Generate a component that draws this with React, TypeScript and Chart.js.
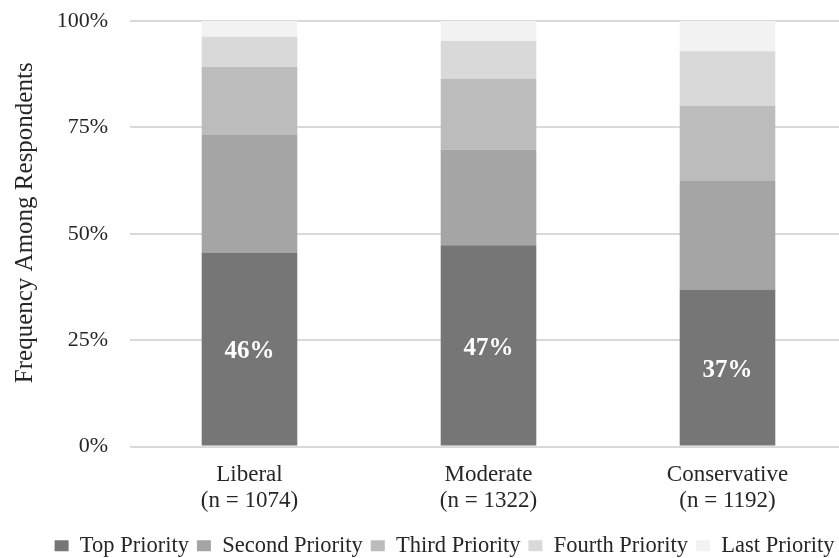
import React, { useEffect, useRef } from "react";
import { Chart, registerables } from "chart.js";

Chart.register(...registerables);

const categories: string[][] = [
  ["Liberal", "(n = 1074)"],
  ["Moderate", "(n = 1322)"],
  ["Conservative", "(n = 1192)"],
];
const seriesNames = ["Top Priority", "Second Priority", "Third Priority", "Fourth Priority", "Last Priority"];
const topPriority = [45.6, 47.3, 36.9];
const secondPriority = [27.6, 22.5, 25.5];
const thirdPriority = [16.0, 16.6, 17.7];
const fourthPriority = [7.1, 8.9, 12.8];
const lastPriority = [3.7, 4.7, 7.1];
const seriesColors = ["#767676", "#a5a5a5", "#bcbcbc", "#d9d9d9", "#f2f2f2"];
const yTicks = [0, 25, 50, 75, 100];
const yTitle = "Frequency Among Respondents";

const FONT = "'Liberation Serif', 'Times New Roman', serif";
const TEXT = "#262626";
const W = 892;
const H = 558;

const labelPlugin = {
  id: "topLabels",
  afterDatasetsDraw(chart: any) {
    const ctx = chart.ctx;
    const meta = chart.getDatasetMeta(0);
    ctx.save();
    ctx.fillStyle = "#ffffff";
    ctx.font = `bold 25px ${FONT}`;
    ctx.textAlign = "center";
    ctx.textBaseline = "middle";
    meta.data.forEach((bar: any, i: number) => {
      const v = chart.data.datasets[0].data[i] as number;
      const y = (bar.y + bar.base) / 2;
      ctx.fillText(`${Math.round(v)}%`, bar.x, y + 3);
    });
    ctx.restore();
  },
};

const yTitlePlugin = {
  id: "yTitle",
  afterDraw(chart: any) {
    const ctx = chart.ctx;
    const a = chart.chartArea;
    ctx.save();
    ctx.translate(25, (a.top + a.bottom) / 2 - 11);
    ctx.rotate(-Math.PI / 2);
    ctx.fillStyle = TEXT;
    ctx.font = `25px ${FONT}`;
    ctx.textAlign = "center";
    ctx.textBaseline = "middle";
    ctx.fillText(yTitle, 0, 0);
    ctx.restore();
  },
};

const legendShift = {
  id: "legendShift",
  afterLayout(chart: any) {
    const lg = chart.legend;
    if (lg) {
      lg.left += 21;
      lg.right += 21;
    }
  },
};

export default function App() {
  const ref = useRef<HTMLCanvasElement>(null);
  useEffect(() => {
    if (!ref.current) return;
    const all = [topPriority, secondPriority, thirdPriority, fourthPriority, lastPriority];
    const chart = new Chart(ref.current, {
      type: "bar",
      data: {
        labels: categories,
        datasets: all.map((d, i) => ({
          label: seriesNames[i],
          data: d,
          backgroundColor: seriesColors[i],
          borderWidth: 0,
          barPercentage: 0.4,
          categoryPercentage: 1,
        })),
      },
      options: {
        animation: false,
        responsive: false,
        maintainAspectRatio: false,
        layout: { padding: { left: 0, right: 45, top: 21, bottom: -9 } },
        plugins: {
          tooltip: { enabled: false },
          legend: {
            position: "bottom",
            labels: {
              font: { family: FONT, size: 22.5 },
              color: TEXT,
              boxWidth: 14,
              boxHeight: 11,
              padding: 8,
            },
          },
        },
        scales: {
          x: {
            stacked: true,
            grid: { display: false, drawTicks: false },
            border: { display: false },
            afterFit: (s: any) => {
              s.height = 80;
            },
            ticks: {
              font: { family: FONT, size: 23, lineHeight: 1.13 },
              color: TEXT,
              padding: 15,
              maxRotation: 0,
            },
          },
          y: {
            stacked: true,
            min: 0,
            max: 100,
            afterBuildTicks: (axis: any) => {
              axis.ticks = yTicks.map((v) => ({ value: v }));
            },
            afterFit: (s: any) => {
              s.width = 130;
              s.paddingTop = 0;
              s.paddingBottom = 0;
            },
            grid: { color: "#d9d9d9", lineWidth: 2, drawTicks: false },
            border: { display: false },
            ticks: {
              font: { family: FONT, size: 22 },
              color: TEXT,
              padding: 22,
              callback: (v: any) => `${v}%`,
            },
          },
        },
      },
      plugins: [labelPlugin, legendShift, yTitlePlugin],
    });
    return () => chart.destroy();
  }, []);
  return (
    <div style={{ position: "fixed", left: 0, top: 0, width: W, height: H, background: "#fff" }}>
      <canvas ref={ref} width={W} height={H} style={{ width: W, height: H }} />
    </div>
  );
}
